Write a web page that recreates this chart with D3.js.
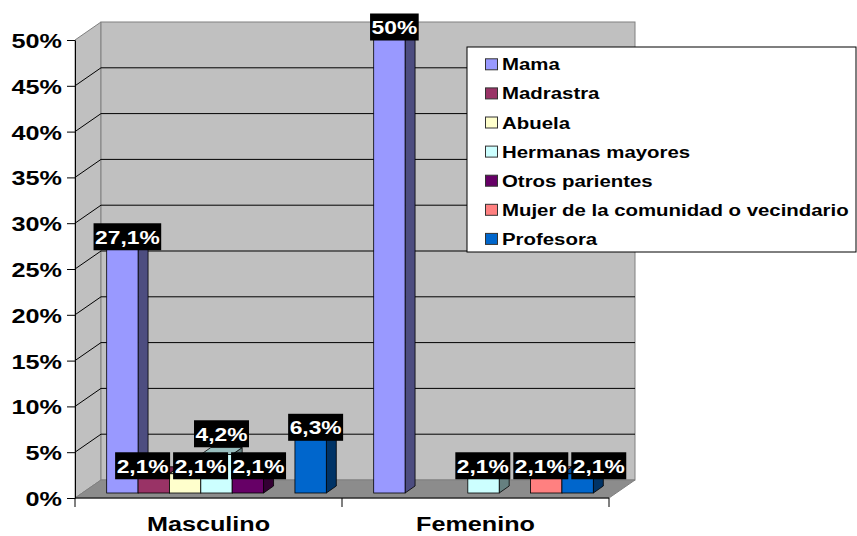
<!DOCTYPE html>
<html><head><meta charset="utf-8">
<script src="https://cdn.jsdelivr.net/npm/d3@7"></script>
<style>
html,body{margin:0;padding:0;background:#fff;}
text{font-family:"Liberation Sans",Arial,sans-serif;font-weight:bold;}
</style></head>
<body>
<svg id="chart" width="857" height="536"></svg>
<script>
const categories = ["Masculino", "Femenino"];
const seriesNames = ["Mama", "Madrastra", "Abuela", "Hermanas mayores", "Otros parientes", "Mujer de la comunidad o vecindario", "Profesora"];
const masculinoValues = [27.1, 2.1, 2.1, 4.2, 2.1, 0, 6.3];
const femeninoValues = [50, 0, 0, 2.1, 0, 2.1, 2.1];
const seriesColors = ["#9999FF", "#993366", "#FFFFCC", "#CCFFFF", "#660066", "#FF8080", "#0066CC"];
const yTickValues = [0, 5, 10, 15, 20, 25, 30, 35, 40, 45, 50];

const valuesByCategory = {"Masculino": masculinoValues, "Femenino": femeninoValues};
const SX = 1.2; // horizontal text stretch
const svg = d3.select("#chart");

// geometry
const X0 = 75, X1 = 609, YBASE = 498, YTOP = 40;
const DX = 26, DY = -18;           // wall depth
const BFX = 8, BFY = -5;           // bar front plane offset
const BDX = 10, BDY = -7;          // bar depth

const y = d3.scaleLinear().domain([0, 50]).range([YBASE, YTOP]);
const x = d3.scaleBand().domain(categories).range([X0, X1]).padding(0);
const xs = d3.scaleBand().domain(seriesNames).range([0, x.bandwidth()]).paddingInner(0).paddingOuter(0.755);
const color = d3.scaleOrdinal().domain(seriesNames).range(seriesColors);
const fmt = v => (Number.isInteger(v) ? String(v) : v.toFixed(1).replace(".", ",")) + "%";

function shade(c, k) { const r = d3.rgb(c); return d3.rgb(r.r * k, r.g * k, r.b * k).formatHex(); }

// walls
const g = svg.append("g");
g.append("polygon") // left wall
  .attr("points", [[X0, y(50)], [X0 + DX, y(50) + DY], [X0 + DX, y(0) + DY], [X0, y(0)]].join(" "))
  .attr("fill", "#C0C0C0").attr("stroke", "#808080");
g.append("rect") // back wall
  .attr("x", X0 + DX).attr("y", y(50) + DY).attr("width", X1 - X0).attr("height", y(0) - y(50))
  .attr("fill", "#C0C0C0").attr("stroke", "#808080");
g.append("polygon") // floor
  .attr("points", [[X0, y(0)], [X0 + DX, y(0) + DY], [X1 + DX, y(0) + DY], [X1, y(0)]].join(" "))
  .attr("fill", "#8c8c8c").attr("stroke", "#808080");

// gridlines
yTickValues.filter(v => v > 0 && v < 50).forEach(v => {
  g.append("line").attr("x1", X0 + DX).attr("x2", X1 + DX).attr("y1", y(v) + DY).attr("y2", y(v) + DY)
    .attr("stroke", "#000").attr("stroke-width", 1);
  g.append("line").attr("x1", X0).attr("x2", X0 + DX).attr("y1", y(v)).attr("y2", y(v) + DY)
    .attr("stroke", "#000").attr("stroke-width", 1);
});

// y axis
const yAxis = svg.append("g").attr("transform", `translate(${X0},0)`)
  .call(d3.axisLeft(y).tickValues(yTickValues).tickSize(8).tickSizeOuter(0).tickFormat(d => d + "%"));
yAxis.select(".domain").attr("stroke", "#000");
yAxis.selectAll(".tick line").attr("stroke", "#000");
yAxis.selectAll(".tick text").attr("x", null).attr("dy", null)
  .attr("transform", `translate(-13,7.5) scale(${SX},1)`)
  .attr("font-size", 21).attr("fill", "#000").attr("text-anchor", "end")
  .style("font-family", '"Liberation Sans",Arial,sans-serif').style("font-weight", "bold");

// x axis
svg.append("line").attr("x1", X0).attr("x2", X1).attr("y1", YBASE).attr("y2", YBASE).attr("stroke", "#000");
categories.map(c => x(c)).concat([X1]).forEach(px => {
  svg.append("line").attr("x1", px).attr("x2", px).attr("y1", YBASE).attr("y2", YBASE + 9).attr("stroke", "#000");
});
categories.forEach(c => {
  svg.append("text").text(c).attr("font-size", 21).attr("text-anchor", "middle")
    .attr("transform", `translate(${x(c) + x.bandwidth() / 2},531) scale(${SX},1)`);
});

// bars
const bars = [];
categories.forEach(c => {
  valuesByCategory[c].forEach((v, i) => {
    if (v > 0) bars.push({cat: c, s: seriesNames[i], v});
  });
});
const bw = xs.bandwidth();
const barG = svg.append("g");
bars.forEach(b => {
  const bx = x(b.cat) + xs(b.s) + BFX;
  const top = y(b.v) + BFY, bot = y(0) + BFY;
  const col = color(b.s);
  b.bx = bx; b.top = top;
  barG.append("polygon")
    .attr("points", [[bx + bw, top], [bx + bw + BDX, top + BDY], [bx + bw + BDX, bot + BDY], [bx + bw, bot]].join(" "))
    .attr("fill", shade(col, 0.5)).attr("stroke", "#000").attr("stroke-width", 0.8);
  barG.append("polygon")
    .attr("points", [[bx, top], [bx + BDX, top + BDY], [bx + bw + BDX, top + BDY], [bx + bw, top]].join(" "))
    .attr("fill", shade(col, 0.75)).attr("stroke", "#000").attr("stroke-width", 0.8);
  barG.append("rect").attr("x", bx).attr("y", top).attr("width", bw).attr("height", bot - top)
    .attr("fill", col).attr("stroke", "#000").attr("stroke-width", 0.8);
});

// data labels
const labG = svg.append("g");
const labels = bars.map(b => {
  const lg = labG.append("g");
  const rect = lg.append("rect").attr("fill", "#000");
  const t = lg.append("text").text(fmt(b.v)).attr("font-size", 19).attr("fill", "#fff").attr("text-anchor", "middle");
  const w = t.node().getComputedTextLength() * SX + 3;
  return {b, lg, rect, t, w, h: 27, cx: b.bx + bw / 2 + BDX / 2, cy: b.top + BDY - 1};
});
// resolve overlaps within each category: different rows -> lift the higher label; same row -> spread sideways
for (let it = 0; it < 60; it++) {
  for (let i = 0; i < labels.length; i++) for (let j = i + 1; j < labels.length; j++) {
    const a = labels[i], c = labels[j];
    if (a.b.cat !== c.b.cat) continue;
    const needX = (a.w + c.w) / 2 + 3;
    const dx = c.cx - a.cx, dy = c.cy - a.cy;
    if (Math.abs(dx) >= needX) continue;
    if (Math.abs(dy) >= a.h + 5) continue;
    if (Math.abs(dy) > 2) {
      const up = dy < 0 ? c : a, low = dy < 0 ? a : c;
      up.cy = low.cy - (a.h + 5);
    } else {
      const push = (needX - Math.abs(dx)) / 2;
      if (dx >= 0) { a.cx -= push; c.cx += push; } else { a.cx += push; c.cx -= push; }
    }
  }
}
labels.forEach(l => {
  l.rect.attr("x", l.cx - l.w / 2).attr("y", l.cy - l.h / 2).attr("width", l.w).attr("height", l.h);
  l.t.attr("transform", `translate(${l.cx},${l.cy + 7}) scale(${SX},1)`);
});

// legend
const lgX = 467, lgY = 47;
const legend = svg.append("g");
legend.append("rect").attr("x", lgX).attr("y", lgY).attr("width", 389).attr("height", 205)
  .attr("fill", "#fff").attr("stroke", "#000").attr("stroke-width", 1);
seriesNames.forEach((s, i) => {
  const cy = 64.3 + i * 29.1;
  legend.append("rect").attr("x", 485.5).attr("y", cy - 5.5).attr("width", 12).attr("height", 11)
    .attr("fill", color(s)).attr("stroke", "#333").attr("stroke-width", 1);
  legend.append("text").text(s).attr("font-size", 17)
    .attr("transform", `translate(502,${cy + 6}) scale(${SX},1)`);
});
</script>
</body></html>
